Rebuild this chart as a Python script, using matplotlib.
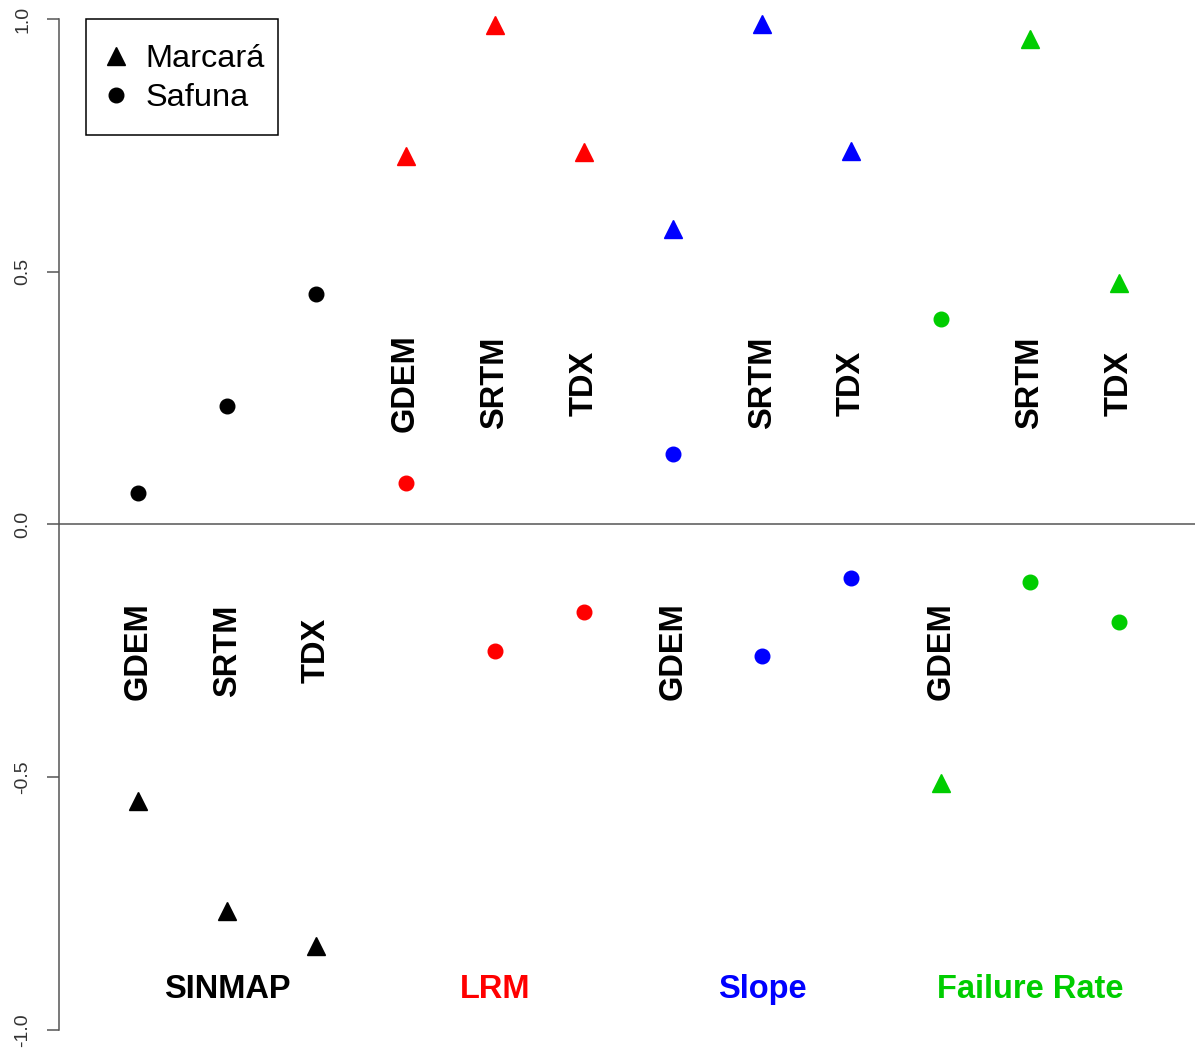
import matplotlib
matplotlib.use("Agg")
import matplotlib.pyplot as plt
from matplotlib.lines import Line2D
from matplotlib.patches import Rectangle

plt.rcParams['font.family'] = ['Liberation Sans', 'DejaVu Sans']

groups = ["SINMAP", "LRM", "Slope", "Failure Rate"]
group_colors = ["#000000", "#FF0000", "#0000FF", "#00CD00"]
dems = ["GDEM", "SRTM", "TDX"]
marcara = [-0.547, -0.765, -0.834, 0.729, 0.988, 0.737,
           0.585, 0.990, 0.739, -0.511, 0.960, 0.478]
safuna = [0.062, 0.234, 0.456, 0.082, -0.250, -0.173,
          0.139, -0.260, -0.106, 0.407, -0.114, -0.193]
label_y = [-0.25, -0.25, -0.25, 0.28, 0.28, 0.28,
           -0.25, 0.28, 0.28, -0.25, 0.28, 0.28]
group_label_y = -0.92
yticks = [-1.0, -0.5, 0.0, 0.5, 1.0]
ytick_labels = ["-1.0", "-0.5", "0.0", "0.5", "1.0"]

W, H = 1195, 1054
fig = plt.figure(figsize=(W / 100, H / 100), dpi=100)
ax = fig.add_axes([59 / W, 0, (W - 59) / W, 1])
ax.set_xlim(0.114, 12.852)
ax.set_ylim(-1.0475, 1.0376)

xs = list(range(1, 13))
cols = [group_colors[i // 3] for i in range(12)]

ax.axhline(0, color="#555555", lw=1.1, zorder=1)
for x, m, s, c in zip(xs, marcara, safuna, cols):
    ax.plot(x, m, marker="^", ms=13, color=c, ls="none", zorder=3)
    ax.plot(x, s, marker="o", ms=10.5, color=c, ls="none", zorder=3)

for i, x in enumerate(xs):
    ax.text(x, label_y[i], dems[i % 3], rotation=90, ha="center", va="center",
            fontsize=23.5, fontweight="bold", color="black")

for g, (name, c) in enumerate(zip(groups, group_colors)):
    ax.text(3 * g + 2, group_label_y, name, ha="center", va="center",
            fontsize=23.5, fontweight="bold", color=c)

for sp in ["top", "right", "bottom"]:
    ax.spines[sp].set_visible(False)
ax.spines["left"].set_bounds(-1, 1)
ax.spines["left"].set_color("#555555")
ax.spines["left"].set_linewidth(1.1)
ax.set_xticks([])
ax.set_yticks(yticks)
ax.set_yticklabels(ytick_labels, rotation=90, va="center", fontsize=14, color="#333333")
ax.tick_params(axis="y", length=8.6, width=1.1, color="#555555", pad=11.5)

# legend frame
fig.patches.append(Rectangle((86 / W, 1 - 135 / H), (278 - 86) / W, (135 - 19) / H,
                             transform=fig.transFigure, fill=False,
                             edgecolor="black", lw=1.1, zorder=5))
handles = [Line2D([], [], marker="^", color="black", ls="none", ms=13),
           Line2D([], [], marker="o", color="black", ls="none", ms=10.5)]
leg = ax.legend(handles, ["Marcará", "Safuna"], loc="upper left",
                bbox_to_anchor=(106.5 / W, 1 - 44 / H), bbox_transform=fig.transFigure,
                fontsize=23.4, frameon=False, borderpad=0, labelspacing=0.29,
                handlelength=0.6, handletextpad=0.6, borderaxespad=0)

fig.savefig("out.png", dpi=100)
